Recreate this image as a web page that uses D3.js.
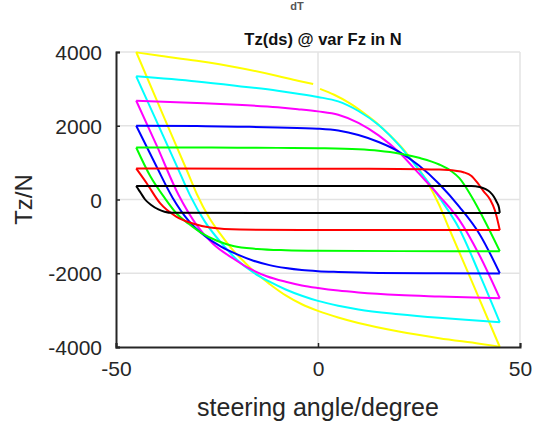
<!DOCTYPE html>
<html>
<head>
<meta charset="utf-8">
<script src="https://cdn.jsdelivr.net/npm/d3@7"></script>
<style>
  body { margin: 0; background: #fff; }
  text { font-family: "Liberation Sans", Arial, sans-serif; }
</style>
</head>
<body>
<div id="chart"></div>
<script>
// tick values
const xTicks = [-50, 0, 50];
const yTicks = [-4000, -2000, 0, 2000, 4000];

// each loop has an upper and a lower branch, both listed left -> right as [steering angle, Tz]
const yellowUp = [[-45,3990],[-40,3910],[-30,3760],[-20,3580],[-10,3350],[-5,3220],[-1.2,3130],null,[0.5,3000],[4,2840],[8,2600],[12,2290],[15,2030],[18,1720],[21,1380],[24,960],[27,480],[30,-150],[32.5,-800],[38,-2200],[45,-4000]];
const yellowDown = [[-45,4000],[-38,2200],[-32.5,800],[-30,150],[-27,-480],[-24,-960],[-21,-1380],[-18,-1720],[-15,-2030],[-12,-2290],[-8,-2600],[-4,-2840],[0,-3020],[5,-3200],[10,-3350],[20,-3580],[30,-3760],[40,-3910],[45,-3990]];

const cyanUp = [[-45,3340],[-30,3200],[-20,3080],[-10,2950],[-5,2870],[0,2780],[5,2660],[10,2400],[15,2020],[20,1480],[25,800],[30,60],[35,-800],[40,-2030],[45,-3330]];
const cyanDown = [[-45,3340],[-40,2130],[-35,920],[-31.7,120],[-28,-600],[-24,-1170],[-20,-1640],[-16,-1980],[-12,-2230],[-8,-2440],[-4,-2610],[0,-2750],[5,-2880],[10,-2980],[20,-3110],[30,-3210],[40,-3290],[45,-3330]];

const magentaUp = [[-45,2680],[-30,2620],[-20,2570],[-10,2500],[-5,2450],[0,2390],[5,2300],[10,2080],[15,1740],[20,1290],[25,700],[30,100],[35,-560],[40,-1520],[45,-2680]];
const magentaDown = [[-45,2680],[-40,1480],[-34.5,120],[-30,-700],[-26,-1200],[-21,-1600],[-17,-1870],[-12.7,-2080],[-8,-2230],[-4,-2330],[0,-2400],[5,-2470],[10,-2520],[20,-2590],[30,-2630],[45,-2680]];

const blueUp = [[-45,2000],[-30,1990],[-20,1975],[-10,1955],[0,1920],[5,1870],[10,1750],[15,1560],[20,1300],[25,920],[30,420],[35,-200],[40,-940],[45,-2000]];
const blueDown = [[-45,2000],[-40,900],[-36,50],[-32,-580],[-28,-990],[-24,-1280],[-20,-1490],[-16,-1660],[-12,-1780],[-8,-1860],[-4,-1915],[0,-1945],[5,-1965],[15,-1990],[30,-2000],[45,-2005]];

const greenUp = [[-45,1410],[-30,1410],[-20,1405],[-10,1400],[0,1390],[10,1360],[15,1320],[20,1250],[25,1130],[30,950],[33,770],[35,580],[38,80],[41,-520],[45,-1400]];
const greenDown = [[-45,1410],[-41.5,630],[-38,50],[-35,-380],[-32,-660],[-29,-900],[-25,-1120],[-21,-1260],[-15,-1340],[-8,-1375],[0,-1390],[20,-1400],[45,-1405]];

const redUp = [[-45,840],[0,835],[20,828],[30,812],[34,780],[36,740],[38,640],[39.5,450],[41,220],[42.6,0],[43.8,-300],[45,-830]];
const redDown = [[-45,840],[-42.4,440],[-39.1,-100],[-35,-470],[-31,-650],[-26.7,-760],[-19.3,-815],[0,-830],[45,-830]];

const blackUp = [[-45,365],[0,365],[38,365],[40,340],[41.5,280],[42.6,200],[43.5,80],[44.2,-60],[44.8,-220],[45,-365]];
const blackDown = [[-45,365],[-44.8,330],[-44,200],[-42.8,0],[-41.3,-150],[-39.5,-270],[-38,-330],[-36,-362],[0,-365],[45,-365]];

const loops = [
  { color: "#ffff00", branches: [yellowUp, yellowDown] },
  { color: "#00ffff", branches: [cyanUp, cyanDown] },
  { color: "#ff00ff", branches: [magentaUp, magentaDown] },
  { color: "#0000ff", branches: [blueUp, blueDown] },
  { color: "#00ff00", branches: [greenUp, greenDown] },
  { color: "#ff0000", branches: [redUp, redDown] },
  { color: "#000000", branches: [blackUp, blackDown] }
];

const W = 560, H = 444;
const margin = { top: 52, right: 40, bottom: 97, left: 116 };

const svg = d3.select("#chart").append("svg")
  .attr("width", W)
  .attr("height", H);

const x = d3.scaleLinear().domain([-50, 50]).range([margin.left, W - margin.right]);
const y = d3.scaleLinear().domain([-4000, 4000]).range([H - margin.bottom, margin.top]);

// grid
svg.append("g").selectAll("line")
  .data(xTicks.slice(1))
  .join("line")
  .attr("x1", d => x(d)).attr("x2", d => x(d))
  .attr("y1", y(-4000)).attr("y2", y(4000))
  .attr("stroke", "#e3e3e3").attr("stroke-width", 1.5);

svg.append("g").selectAll("line")
  .data(yTicks.slice(1))
  .join("line")
  .attr("x1", x(-50)).attr("x2", x(50))
  .attr("y1", d => y(d)).attr("y2", d => y(d))
  .attr("stroke", "#e3e3e3").attr("stroke-width", 1.5);

// curves
const line = d3.line()
  .defined(d => d)
  .x(d => x(d[0]))
  .y(d => y(d[1]))
  .curve(d3.curveMonotoneX);

loops.forEach(l => {
  svg.append("g").selectAll("path")
    .data(l.branches)
    .join("path")
    .attr("d", line)
    .attr("fill", "none")
    .attr("stroke", l.color)
    .attr("stroke-width", 2)
    .attr("stroke-linejoin", "round");
});

// axes
const xAxis = svg.append("g")
  .attr("transform", `translate(0,${y(-4000)})`)
  .call(d3.axisBottom(x).tickValues(xTicks).tickFormat(d => String(d)).tickSize(-4).tickPadding(14));

const yAxis = svg.append("g")
  .attr("transform", `translate(${x(-50)},0)`)
  .call(d3.axisLeft(y).tickValues(yTicks).tickFormat(d => String(d)).tickSize(-4).tickPadding(14));

[xAxis, yAxis].forEach(a => {
  a.select(".domain").attr("stroke", "#262626").attr("stroke-width", 2);
  a.selectAll(".tick line").attr("stroke", "#262626").attr("stroke-width", 1.5);
  a.selectAll(".tick text")
    .attr("fill", "#262626")
    .style("font-size", "21px")
    .style("font-family", "'Liberation Sans', Arial, sans-serif");
});
yAxis.selectAll(".tick text").attr("dy", "0.36em");

// labels
svg.append("text")
  .attr("x", 297).attr("y", 10)
  .attr("text-anchor", "middle")
  .style("font-size", "11px").style("font-weight", "bold")
  .attr("fill", "#555")
  .text("dT");

svg.append("text")
  .attr("x", 323).attr("y", 45)
  .attr("text-anchor", "middle")
  .style("font-size", "16.5px").style("font-weight", "bold")
  .attr("fill", "#111")
  .text("Tz(ds) @ var Fz in N");

svg.append("text")
  .attr("x", 318).attr("y", 416)
  .attr("text-anchor", "middle")
  .style("font-size", "25px")
  .attr("fill", "#262626")
  .text("steering angle/degree");

svg.append("text")
  .attr("transform", `translate(32,${y(0)}) rotate(-90)`)
  .attr("text-anchor", "middle")
  .style("font-size", "24px")
  .attr("fill", "#262626")
  .text("Tz/N");
</script>
</body>
</html>
